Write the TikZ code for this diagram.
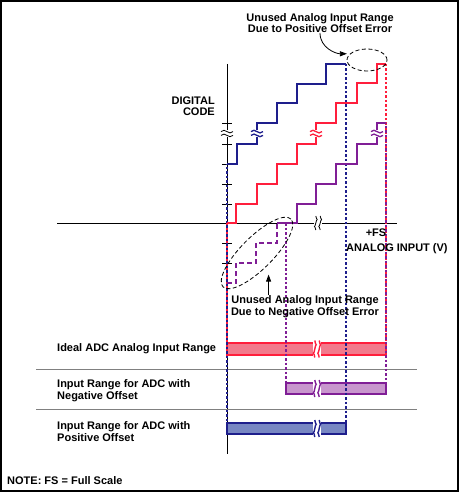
\documentclass[tikz,border=0pt]{standalone}
\usepackage{fontspec}
\setmainfont{Liberation Sans}
\usetikzlibrary{arrows.meta,shapes.geometric}

\definecolor{posblue}{RGB}{30,30,140}
\definecolor{idealred}{RGB}{255,30,60}
\definecolor{negpurple}{RGB}{128,30,150}
\definecolor{posfill}{RGB}{120,135,195}
\definecolor{idealfill}{RGB}{242,122,140}
\definecolor{negfill}{RGB}{200,150,205}

% break mark across a riser: x, y, colour, width
\newcommand{\stepbreak}[4]{%
  \fill[white] (#1-7,#2-3.2) rectangle (#1+7,#2+3.2);
  \foreach \dy in {-1.9,1.9}
    \draw[#3, line width=#4] (#1-6,#2+\dy) sin (#1-3,#2+\dy-1.3) cos (#1,#2+\dy) sin (#1+3,#2+\dy+1.3) cos (#1+6,#2+\dy);
}
% break mark across a horizontal line or bar: x, y, half height, colour, width
\newcommand{\barbreak}[5]{%
  \fill[white] (#1-4.2,#2-#3) rectangle (#1+4.2,#2+#3);
  \foreach \dx in {-2.2,2.2}
    \draw[#4, line width=#5] (#1+\dx,#2-#3) sin (#1+\dx+1.4,#2-#3/2) cos (#1+\dx,#2) sin (#1+\dx-1.4,#2+#3/2) cos (#1+\dx,#2+#3);
}

\begin{document}
\begin{tikzpicture}[x=1pt,y=-1pt,
  lbl/.style={font=\bfseries\fontsize{11}{11.5}\selectfont, inner sep=0pt},
  axisline/.style={line width=0.9pt},
  stair/.style={line width=1.9pt},
  guide/.style={line width=1.8pt, dash pattern=on 2.5pt off 2pt},
  gapmark/.style={draw, dash pattern=on 4pt off 2.5pt, ellipse, line width=0.8pt, inner sep=0pt},
  pointer/.style={-{Triangle[length=7pt,width=5pt]}, line width=0.8pt},
  rangebar/.style={line width=1.4pt},
  sep/.style={draw=gray, line width=1pt}
]
\useasboundingbox (0,0) rectangle (459,492);
\draw[line width=2pt] (1,1) rectangle (458,491);

\draw[axisline] (57,223) -- (397,223);
\draw[axisline] (227,64) -- (227,454);
\foreach \ty in {123,144,164,184,204,243,263}
  \draw[axisline] (222,\ty) -- (232,\ty);

\draw[sep] (36,369) -- (417,369);
\draw[sep] (36,409) -- (417,409);

\draw[rangebar, draw=idealred, fill=idealfill] (227,343) rectangle (386,355);
\draw[rangebar, draw=negpurple, fill=negfill] (286,383) rectangle (386,394);
\draw[rangebar, draw=posblue, fill=posfill] (227,423) rectangle (346,434);

\draw[guide, idealred] (227,223) -- (227,343);
\draw[guide, posblue, dash phase=2pt] (227,164) -- (227,432);
\draw[guide, posblue] (346,64) -- (346,423);
\draw[guide, idealred] (386,64) -- (386,343);
\draw[guide, negpurple, dash phase=2pt] (386,123) -- (386,383);
\draw[guide, negpurple] (286,223) -- (286,383);

\draw[stair, posblue] (227,164) -- (237,164) -- (237,144) -- (257,144) -- (257,123) -- (277,123) -- (277,103) -- (297,103) -- (297,84) -- (326,84) -- (326,64) -- (346,64);
\draw[stair, idealred] (227,223) -- (236,223) -- (236,204) -- (257,204) -- (257,184) -- (277,184) -- (277,164) -- (297,164) -- (297,144) -- (316,144) -- (316,123) -- (336,123) -- (336,103) -- (357,103) -- (357,83) -- (377,83) -- (377,64) -- (386,64);
\draw[stair, negpurple, dash pattern=on 5pt off 3pt] (227,283) -- (236,283) -- (236,263) -- (256,263) -- (256,243) -- (277,243) -- (277,223);
\draw[stair, negpurple] (277,223) -- (297,223) -- (297,204) -- (316,204) -- (316,184) -- (336,184) -- (336,164) -- (357,164) -- (357,144) -- (377,144) -- (377,123) -- (386,123);

\stepbreak{227}{133.5}{black}{0.8pt}
\stepbreak{257}{133.5}{posblue}{1.3pt}
\stepbreak{316}{133.5}{idealred}{1.3pt}
\stepbreak{377}{133.5}{negpurple}{1.3pt}
\barbreak{318}{223}{7}{black}{0.8pt}
\barbreak{317}{349}{8.5}{idealred}{1.4pt}
\barbreak{317}{388.5}{8.5}{negpurple}{1.4pt}
\barbreak{317}{428.5}{8.5}{posblue}{1.4pt}

\node[gapmark, minimum width=40pt, minimum height=22pt] (posgap) at (367,60) {};
\node[gapmark, rotate=45, minimum width=96pt, minimum height=32pt] (neggap) at (257,253) {};

\node[lbl, align=right, anchor=east] (ylabel) at (215,106) {DIGITAL\\CODE};
\node[lbl] (fslabel) at (376,233) {+FS};
\node[lbl, anchor=west] (xlabel) at (346,248.5) {ANALOG INPUT (V)};
\node[lbl, align=center] (posnote) at (320,23) {Unused Analog Input Range\\Due to Positive Offset Error};
\node[lbl, align=center] (negnote) at (305,306.5) {Unused Analog Input Range\\Due to Negative Offset Error};
\node[lbl, anchor=west] (ideallbl) at (57,349) {Ideal ADC Analog Input Range};
\node[lbl, anchor=west, align=left] (neglbl) at (57,390.5) {Input Range for ADC with\\Negative Offset};
\node[lbl, anchor=west, align=left] (poslbl) at (57,431.5) {Input Range for ADC with\\Positive Offset};
\node[lbl, anchor=west] (notelbl) at (7,481) {NOTE: FS = Full Scale};

\draw[pointer, shorten >=3pt] (posnote.south) .. controls +(0,15) and +(-14,0) .. (posgap.160);
\draw[pointer, shorten >=10pt] (neggap.south |- negnote.north) -- (neggap.south);
\end{tikzpicture}
\end{document}
